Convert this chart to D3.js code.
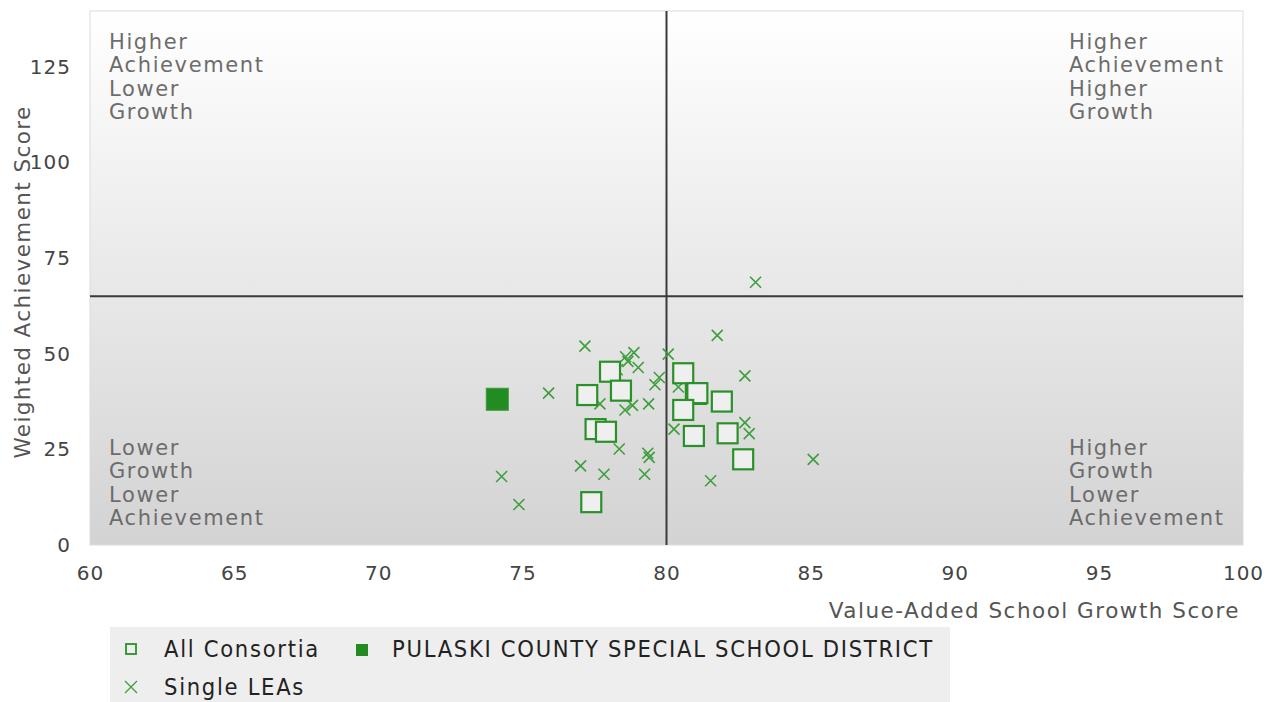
<!DOCTYPE html>
<html><head><meta charset="utf-8">
<script src="https://cdn.jsdelivr.net/npm/d3@7/dist/d3.min.js"></script>
<style>
body{margin:0;background:#fff;}
svg{display:block;font-family:"DejaVu Sans",sans-serif;}
</style>
</head><body>
<svg id="c" width="1272" height="702"></svg>
<script>
// ---- data ----
const consortiaX = [78.04, 77.25, 78.42, 77.54, 77.90, 77.39, 80.58, 81.02, 81.07, 81.92, 80.58, 80.95, 82.12, 82.66];
const consortiaY = [45.3, 39.2, 40.35, 30.3, 29.6, 11.2, 44.9, 39.5, 39.7, 37.5, 35.3, 28.5, 29.2, 22.4];
const districtX = [74.13];
const districtY = [38.1];
const singleX = [83.09, 81.76, 80.06, 77.17, 78.58, 78.87, 78.66, 78.29, 79.02, 79.75, 79.60, 82.72, 80.41, 75.91, 77.69, 78.82, 78.56, 79.38, 80.26, 82.72, 82.87, 85.09, 81.53, 78.36, 79.35, 79.40, 77.02, 77.83, 79.24, 74.28, 74.88];
const singleY = [68.7, 54.8, 49.9, 52.0, 49.2, 50.3, 48.0, 45.8, 46.4, 43.8, 41.9, 44.2, 41.3, 39.7, 36.9, 36.5, 35.3, 36.9, 30.3, 32.0, 29.1, 22.4, 16.8, 25.1, 24.0, 22.9, 20.7, 18.5, 18.5, 17.9, 10.6];
const xTicks = [60, 65, 70, 75, 80, 85, 90, 95, 100];
const yTicks = [0, 25, 50, 75, 100, 125];
const xDomain = [60, 100];
const yDomain = [0, 139.6];
const xCut = 80, yCut = 65;
const xTitle = "Value-Added School Growth Score";
const yTitle = "Weighted Achievement Score";
const quadTopLeft = ["Higher", "Achievement", "Lower", "Growth"];
const quadTopRight = ["Higher", "Achievement", "Higher", "Growth"];
const quadBottomLeft = ["Lower", "Growth", "Lower", "Achievement"];
const quadBottomRight = ["Higher", "Growth", "Lower", "Achievement"];
const legendNames = ["All Consortia", "PULASKI COUNTY SPECIAL SCHOOL DISTRICT", "Single LEAs"];

// ---- layout ----
const L = 90, R = 1243, T = 11, B = 545;
const green = "#2a912a", xGreen = "#3d9e3d";
const svg = d3.select("#c");
const x = d3.scaleLinear().domain(xDomain).range([L, R]);
const y = d3.scaleLinear().domain(yDomain).range([B, T]);

const defs = svg.append("defs");
const grad = defs.append("linearGradient").attr("id", "bg").attr("x1", 0).attr("y1", 0).attr("x2", 0).attr("y2", 1);
grad.append("stop").attr("offset", "0%").attr("stop-color", "#ffffff");
grad.append("stop").attr("offset", "100%").attr("stop-color", "#d3d3d3");
defs.append("clipPath").attr("id", "clip").append("rect").attr("x", L).attr("y", T).attr("width", R - L).attr("height", B - T);

svg.append("rect").attr("x", L).attr("y", T).attr("width", R - L).attr("height", B - T)
  .attr("fill", "url(#bg)").attr("stroke", "#dcdcdc").attr("stroke-width", 1);

// quadrant labels
function quad(lines, px, py) {
  const g = svg.append("g").attr("fill", "#6c6c6c").style("font-size", "21px").style("letter-spacing", "1.6px");
  lines.forEach((s, i) => g.append("text").attr("x", px).attr("y", py + i * 23.4).attr("dominant-baseline", "central").text(s));
}
quad(quadTopLeft, x(60) + 19, 42);
quad(quadTopRight, x(100) - 174, 42);
quad(quadBottomLeft, x(60) + 19, 448);
quad(quadBottomRight, x(100) - 174, 448);

// cut lines
svg.append("line").attr("x1", x(xCut)).attr("x2", x(xCut)).attr("y1", T).attr("y2", B).attr("stroke", "#3a3a3a").attr("stroke-width", 2);
svg.append("line").attr("x1", L).attr("x2", R).attr("y1", y(yCut)).attr("y2", y(yCut)).attr("stroke", "#3a3a3a").attr("stroke-width", 2);

// axes
const ax = svg.append("g").attr("transform", `translate(0,${B})`)
  .call(d3.axisBottom(x).tickValues(xTicks).tickSize(0).tickPadding(21).tickFormat(d3.format("d")));
ax.select(".domain").remove();
ax.selectAll("text").attr("fill", "#444").style("font-size", "20px").style("font-family", "DejaVu Sans").style("letter-spacing", "1px");
const ay = svg.append("g").attr("transform", `translate(${L},0)`)
  .call(d3.axisLeft(y).tickValues(yTicks).tickSize(0).tickPadding(19).tickFormat(d3.format("d")));
ay.select(".domain").remove();
ay.selectAll("text").attr("fill", "#444").style("font-size", "20px").style("font-family", "DejaVu Sans").style("letter-spacing", "1px");

svg.append("text").attr("x", 1240).attr("y", 610).attr("text-anchor", "end").attr("dominant-baseline", "central")
  .attr("fill", "#555").style("font-size", "21.5px").style("letter-spacing", "1.5px").text(xTitle);
svg.append("text").attr("transform", `translate(22,${(T + B) / 2 + 4}) rotate(-90)`).attr("text-anchor", "middle").attr("dominant-baseline", "central")
  .attr("fill", "#555").style("font-size", "21.5px").style("letter-spacing", "1.4px").text(yTitle);

// marks
const plot = svg.append("g").attr("clip-path", "url(#clip)");
const single = singleX.map((v, i) => ({ x: v, y: singleY[i] }));
const xs = 5.5;
plot.selectAll("path.lea").data(single).join("path").attr("class", "lea")
  .attr("d", d => `M${x(d.x) - xs},${y(d.y) - xs}L${x(d.x) + xs},${y(d.y) + xs}M${x(d.x) - xs},${y(d.y) + xs}L${x(d.x) + xs},${y(d.y) - xs}`)
  .attr("stroke", xGreen).attr("stroke-width", 1.6).attr("fill", "none");
const cons = consortiaX.map((v, i) => ({ x: v, y: consortiaY[i] }));
const sq = 20;
plot.selectAll("rect.cons").data(cons).join("rect").attr("class", "cons")
  .attr("x", d => x(d.x) - sq / 2).attr("y", d => y(d.y) - sq / 2).attr("width", sq).attr("height", sq)
  .attr("fill", "#efefef").attr("stroke", green).attr("stroke-width", 2.2);
const dist = districtX.map((v, i) => ({ x: v, y: districtY[i] }));
plot.selectAll("rect.dist").data(dist).join("rect").attr("class", "dist")
  .attr("x", d => x(d.x) - 11).attr("y", d => y(d.y) - 11).attr("width", 22).attr("height", 22)
  .attr("fill", "#228b22").attr("stroke", "#3a9a3a").attr("stroke-width", 1);

// legend
const lg = svg.append("g");
lg.append("rect").attr("x", 110).attr("y", 627).attr("width", 840).attr("height", 80).attr("fill", "#eeeeee");
lg.append("rect").attr("x", 126).attr("y", 644).attr("width", 10).attr("height", 10).attr("fill", "none").attr("stroke", green).attr("stroke-width", 1.8);
lg.append("rect").attr("x", 356).attr("y", 644).attr("width", 12).attr("height", 12).attr("fill", "#228b22");
lg.append("path").attr("d", "M125,681L137,693M125,693L137,681").attr("stroke", xGreen).attr("stroke-width", 1.3).attr("fill", "none");
const legPos = [[164, 649], [392, 649], [164, 687]];
legendNames.forEach((s, i) => lg.append("text").attr("x", legPos[i][0]).attr("y", legPos[i][1]).attr("dominant-baseline", "central")
  .attr("fill", "#222").style("font-family", "'DejaVu Sans Condensed', 'DejaVu Sans'").style("font-stretch", "condensed")
  .style("font-size", "23.5px").style("letter-spacing", "1.7px").text(s));
</script>
</body></html>
